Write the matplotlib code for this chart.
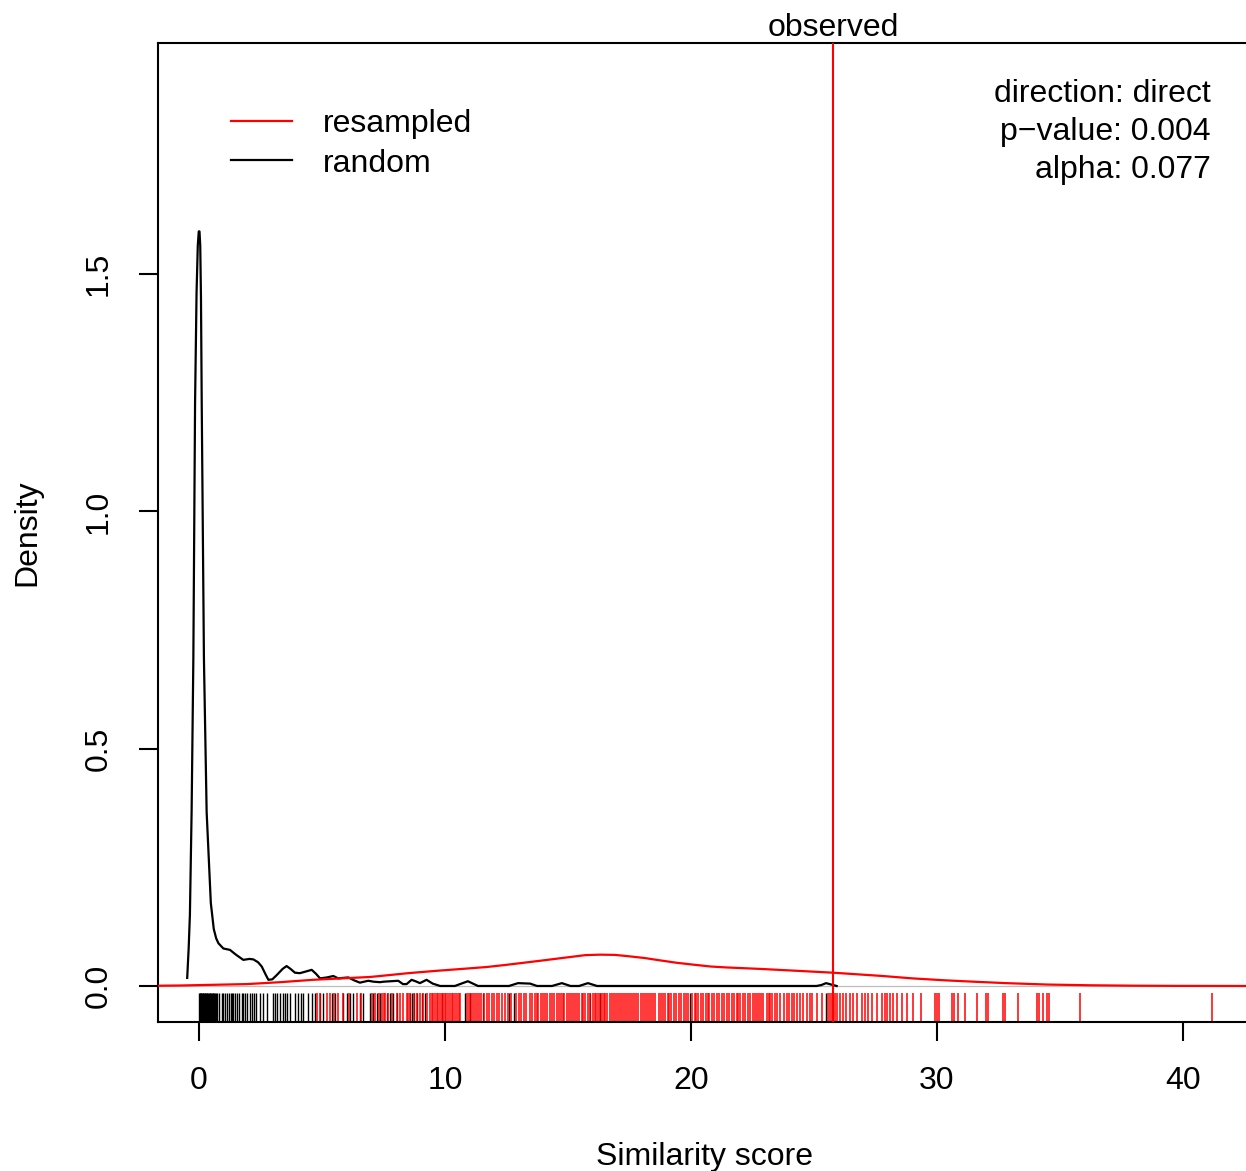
import matplotlib
matplotlib.use("Agg")
import matplotlib.pyplot as plt
import numpy as np

plt.rcParams["font.family"] = ["Liberation Sans", "DejaVu Sans"]

# density curve of the random scores (x, density)
random_x = [-0.48, -0.42, -0.37, -0.30, -0.23, -0.16, -0.10, -0.05, -0.01, 0.02, 0.05, 0.08,
            0.11, 0.20, 0.31, 0.48, 0.60, 0.70, 0.79, 0.99, 1.26, 1.50, 1.80, 2.05, 2.21,
            2.40, 2.55, 2.70, 2.82, 2.98, 3.16, 3.40, 3.56, 3.72, 3.90, 4.10, 4.31, 4.58,
            4.75, 4.92, 5.20, 5.46, 5.66, 5.85, 6.07, 6.30, 6.54, 6.88, 7.10, 7.36, 7.49,
            7.80, 8.10, 8.29, 8.44, 8.64, 8.80, 8.98, 9.25, 9.50, 9.80, 10.40, 10.93, 11.34,
            12.60, 12.97, 13.46, 13.74, 14.35, 14.75, 15.10, 15.45, 15.81, 16.18, 25.10,
            25.30, 25.49, 25.70, 25.92]
random_y = [0.017, 0.08, 0.15, 0.37, 0.69, 1.23, 1.46, 1.56, 1.59, 1.59, 1.56, 1.45,
            1.23, 0.69, 0.367, 0.175, 0.12, 0.10, 0.09, 0.079, 0.076, 0.066, 0.055, 0.057, 0.056,
            0.050, 0.041, 0.025, 0.013, 0.014, 0.023, 0.036, 0.042, 0.036, 0.028, 0.027, 0.030, 0.034,
            0.026, 0.016, 0.018, 0.021, 0.016, 0.017, 0.018, 0.012, 0.007, 0.011, 0.009, 0.008, 0.009,
            0.010, 0.011, 0.004, 0.004, 0.013, 0.010, 0.006, 0.013, 0.005, 0.0, 0.0, 0.010, 0.0,
            0.0, 0.006, 0.005, 0.0, 0.0, 0.006, 0.0, 0.0, 0.006, 0.0, 0.0,
            0.002, 0.006, 0.003, 0.0]

# density curve of the resampled scores
resampled_x = [-1.7, -0.77, 1.95, 3.3, 4.63, 5.8, 6.95, 7.36, 8.5, 9.67, 10.7, 11.7, 12.4,
               13.05, 14.0, 15.08, 15.7, 16.3, 16.9, 17.4, 18.1, 18.74, 19.4, 20.08, 20.8,
               21.46, 22.8, 24.3, 25.77, 27.8, 29.0, 30.3, 31.5, 32.8, 34.5, 36.2, 38.0,
               39.7, 42.6]
resampled_y = [0.0005, 0.001, 0.004, 0.008, 0.013, 0.016, 0.019, 0.021, 0.027, 0.032, 0.036,
               0.040, 0.044, 0.048, 0.054, 0.061, 0.065, 0.066, 0.0655, 0.063, 0.059, 0.054,
               0.049, 0.045, 0.041, 0.039, 0.036, 0.032, 0.028, 0.021, 0.016, 0.012, 0.009,
               0.006, 0.003, 0.0015, 0.0006, 0.0002, 0.0]

# rug positions
random_rug = [0.0, 0.02, 0.05, 0.07, 0.1, 0.12, 0.15, 0.18, 0.2, 0.23, 0.26, 0.28, 0.31,
              0.34, 0.37, 0.4, 0.43, 0.46, 0.49, 0.52, 0.55, 0.58, 0.62, 0.66, 0.7, 0.74,
              0.83, 0.92, 0.97, 1.06, 1.12, 1.23, 1.29, 1.35, 1.4, 1.46, 1.56, 1.64,
              1.73, 1.8, 1.87, 1.94, 2.07, 2.14, 2.24, 2.32, 2.48, 2.62, 2.75, 3.0, 3.09,
              3.16, 3.29, 3.4, 3.5, 3.56, 3.7, 3.9, 4.04, 4.13, 4.24, 4.44, 4.58, 4.72,
              4.92, 5.06, 5.39, 5.53, 5.87, 6.0, 6.14, 6.28, 6.55, 6.68, 6.95, 7.09, 7.22,
              7.36, 7.63, 7.77, 7.9, 8.04, 8.58, 8.64, 8.72, 8.85, 9.05, 9.19, 9.87, 10.81,
              11.02, 11.56, 12.6, 12.8, 15.9, 16.3, 19.96, 25.5]
resampled_rug = [4.79, 4.9, 5.2, 5.33, 5.5, 5.67, 5.85, 6.1, 6.41, 6.6, 7.02, 7.16, 7.3,
                 7.43, 7.5, 7.56, 7.7, 7.83, 8.03, 8.17, 8.31, 8.44, 8.5, 8.58, 8.75, 8.85,
                 9.0, 9.12, 9.25,
                 9.4, 9.47, 9.53, 9.6, 9.66, 9.72, 9.8, 9.86, 9.93, 10.0, 10.06, 10.13, 10.2,
                 10.27, 10.33, 10.4, 10.47, 10.55, 10.62, 10.9, 10.97, 11.05, 11.12, 11.2,
                 11.3, 11.38, 11.48, 11.6, 11.7, 11.78, 11.9, 12.0, 12.1, 12.2, 12.3, 12.45,
                 12.55, 12.7, 12.9, 13.0, 13.1, 13.2, 13.3, 13.45, 13.55, 13.65, 13.72, 13.8,
                 13.9, 14.0, 14.08, 14.15, 14.25, 14.35, 14.45, 14.55, 14.62, 14.7, 14.78,
                 14.85, 14.95, 15.05, 15.12, 15.2, 15.28, 15.35, 15.45, 15.55, 15.62, 15.7,
                 15.8, 15.88, 16.0, 16.08, 16.15, 16.22, 16.3, 16.38, 16.45, 16.52, 16.6, 16.7,
                 16.78, 16.85, 16.95, 17.02, 17.1, 17.2, 17.28, 17.35, 17.42, 17.5, 17.6, 17.7,
                 17.78, 17.85, 17.95, 18.05, 18.12, 18.2, 18.3, 18.38, 18.45, 18.55, 18.7,
                 18.78, 18.85, 18.95, 19.05, 19.12, 19.2, 19.3, 19.4, 19.5, 19.6, 19.7, 19.8,
                 19.88, 20.05, 20.15, 20.22, 20.3, 20.4, 20.5, 20.6, 20.68, 20.75, 20.85,
                 20.95, 21.05, 21.15, 21.25, 21.35, 21.45, 21.55, 21.65, 21.75, 21.85, 21.92,
                 22.0, 22.12, 22.2, 22.3, 22.4, 22.5, 22.6, 22.67, 22.75, 22.85, 22.94, 23.08,
                 23.15, 23.21, 23.3, 23.42, 23.5, 23.62, 23.76, 23.89, 24.0, 24.09, 24.2, 24.3,
                 24.43, 24.57, 24.7, 24.85, 24.91, 25.11, 25.31, 25.55, 25.65, 25.72, 25.79,
                 25.85, 25.92, 26.06, 26.19, 26.3, 26.47, 26.6, 26.74, 26.94, 27.07, 27.21,
                 27.35, 27.55, 27.75, 27.89, 27.96, 28.09, 28.23, 28.36, 28.57, 28.77, 29.04,
                 29.34, 29.91, 29.99, 30.08, 30.6, 30.68, 30.86, 31.12, 31.63, 31.98, 32.07,
                 32.67, 32.76, 33.28, 34.05, 34.14, 34.31, 34.48, 34.57, 35.83, 41.18]

observed = 25.77
x_ticks = [0, 10, 20, 30, 40]
y_ticks = [0.0, 0.5, 1.0, 1.5]
y_tick_labels = ["0.0", "0.5", "1.0", "1.5"]
info_lines = ["direction: direct", "p\u2212value: 0.004", "alpha: 0.077"]

W, H = 1246, 1171
fig = plt.figure(figsize=(W / 100, H / 100), dpi=100)
ax = fig.add_axes([158 / W, 149 / H, (W - 158) / W, (1022 - 43) / H])

fs = 23
ax.axhline(0, color="#bebebe", linewidth=0.9, zorder=1)
ax.plot(random_x, random_y, color="black", linewidth=1.6, zorder=3, label="random")
ax.plot(resampled_x, resampled_y, color="red", linewidth=1.6, zorder=3, label="resampled")

trans = ax.get_xaxis_transform()
ax.vlines(random_rug, 0, 0.03, transform=trans, color="black", linewidth=1.0)
ax.vlines(resampled_rug, 0, 0.03, transform=trans, color="red", linewidth=1.1)

ax.axvline(observed, color="red", linewidth=1.5, zorder=4)
ax.text(observed, 1.0, "observed", transform=trans, ha="center", va="bottom", fontsize=fs)

ax.set_xlim(-1.667, 42.56)
ax.set_ylim(-0.0759, 1.987)
ax.set_xticks(x_ticks)
ax.set_yticks(y_ticks)
ax.set_yticklabels(y_tick_labels, rotation=90, va="center")
ax.tick_params(axis="both", direction="out", length=14, width=1.5, labelsize=fs, pad=18)
for side in ["left", "bottom", "top"]:
    ax.spines[side].set_linewidth(1.5)
ax.spines["right"].set_visible(False)

handles, labels = ax.get_legend_handles_labels()
ax.legend(handles[::-1], labels[::-1], loc="upper left", bbox_to_anchor=(0.041, 0.962),
          frameon=False, fontsize=fs, handlelength=1.91, handletextpad=0.94, labelspacing=0.3)

for i, line in enumerate(info_lines):
    fig.text(1211 / W, 1 - (94 + 38 * i) / H, line, ha="right", va="center", fontsize=fs)

fig.text(705 / W, 1 - 1157 / H, "Similarity score", ha="center", va="center", fontsize=fs)
fig.text(27 / W, 1 - 533 / H, "Density", ha="center", va="center", rotation=90, fontsize=fs)

fig.savefig("out.png", dpi=100)
